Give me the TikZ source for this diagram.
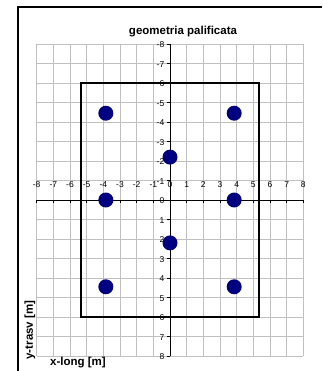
\documentclass[tikz,border=0pt]{standalone}
\usepackage{fontspec}
\setmainfont{Liberation Sans}
\usetikzlibrary{positioning, calc}
\definecolor{griglia}{RGB}{192,192,192}
\definecolor{palo}{RGB}{0,0,128}

\begin{document}
\begin{tikzpicture}[x=1pt, y=-1pt,
  tacca/.style={font=\fontsize{8.5}{8.5}\selectfont, inner sep=0pt},
  etichetta/.style={font=\bfseries\fontsize{11.5}{12}\selectfont, inner sep=0pt}]

\useasboundingbox (0,0) rectangle (322,371);

%------------------------------------------------
% CORNICE E TITOLO
%------------------------------------------------
\draw[line width=1.4pt] (18,371) -- (18,7) -- (322,7);
\node[etichetta] (titolo) at (183,31.5) {geometria palificata};

%------------------------------------------------
% GRAFICO: griglia, assi, plinto e pali
%------------------------------------------------
\begin{scope}[shift={(170,200)}, x=16.667pt, y=-19.5pt]

% Griglia
\foreach \k in {-8,...,8} {
  \draw[griglia, line width=0.6pt] (\k,-8) -- (\k,8);
  \draw[griglia, line width=0.6pt] (-8,\k) -- (8,\k);
}

% Assi
\draw[line width=0.7pt] (-8,0) -- (8,0);
\draw[line width=0.7pt] (0,-8) -- (0,8);

% Tacche ed etichette
\foreach \k in {-8,...,8} {
  \draw[line width=0.6pt] (\k,0) -- ++(0,-3pt);
  \draw[line width=0.6pt] (0,\k) -- ++(-3pt,0);
  \node[tacca] (tx\k) at ($(\k,0)+(0,15pt)$) {\k};
  \node[tacca, anchor=east] (ty\k) at ($(0,\k)+(-5.5pt,-1pt)$) {\k};
}

% Contorno del plinto
\draw[line width=2pt] (-5.35,-6) rectangle (5.35,6);

% Pali
\fill[palo] (-3.85,-4.45) circle (7.5pt);
\fill[palo] (3.85,-4.45) circle (7.5pt);
\fill[palo] (0,-2.2) circle (7.5pt);
\fill[palo] (-3.85,0) circle (7.5pt);
\fill[palo] (3.85,0) circle (7.5pt);
\fill[palo] (0,2.2) circle (7.5pt);
\fill[palo] (-3.85,4.45) circle (7.5pt);
\fill[palo] (3.85,4.45) circle (7.5pt);

\end{scope}

% Etichette degli assi
\node[etichetta] (xlab) at (78,363) {x-long [m]};
\node[etichetta, rotate=90] (ylab) at (30,330) {y-trasv [m]};

\end{tikzpicture}
\end{document}
